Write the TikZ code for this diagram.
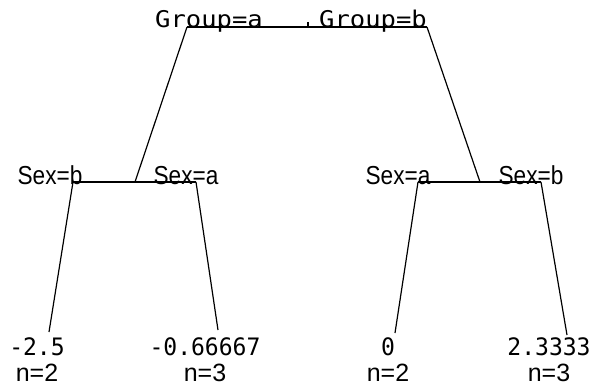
\documentclass[tikz,border=0pt]{standalone}
\usepackage{fontspec}
\setmainfont{Liberation Sans}
\newfontfamily\monof{DejaVu Sans Mono}
\newcommand{\valtxt}[1]{{\monof\fontsize{24}{26}\selectfont\scalebox{0.96}[1]{#1}}}
\begin{document}
\begin{tikzpicture}[x=1pt,y=-1pt,line width=1.2pt,
  split/.style={anchor=base,inner sep=0pt,font=\fontsize{26}{26}\selectfont},
  grp/.style={anchor=base,inner sep=0pt,font=\monof\fontsize{23}{23}\selectfont},
  leaf/.style={anchor=base,inner sep=0pt,align=center,font=\fontsize{25}{26}\selectfont},
  branch/.style={draw=black,line width=1.2pt}]
\useasboundingbox (0,0) rectangle (597,385);
% labels
\node[grp] (ga) at (209,28) {\scalebox{1.11}[1]{Group=a}};
\node[grp] (gb) at (373,28) {\scalebox{1.11}[1]{Group=b}};
\node[split] (lsb) at (50,184) {\scalebox{0.87}[1]{Sex=b}};
\node[split] (lsa) at (186,184) {\scalebox{0.87}[1]{Sex=a}};
\node[split] (rsa) at (398,184) {\scalebox{0.87}[1]{Sex=a}};
\node[split] (rsb) at (531,184) {\scalebox{0.87}[1]{Sex=b}};
\node[leaf] (v1) at (37,381) {\valtxt{-2.5}\\n=2};
\node[leaf] (v2) at (205,381) {\valtxt{-0.66667}\\n=3};
\node[leaf] (v3) at (388,381) {\valtxt{0}\\n=2};
\node[leaf] (v4) at (549,381) {\valtxt{2.3333}\\n=3};
% branch points
\coordinate (rt) at (308,22);
\coordinate (rb) at (308,27);
\coordinate (rl) at (187,27);
\coordinate (rr) at (427,27);
\coordinate (lj) at (135,182);
\coordinate (ll) at (73,182);
\coordinate (lr) at (196,182);
\coordinate (rj) at (480,182);
\coordinate (rl2) at (418,182);
\coordinate (rr2) at (541,182);
\coordinate (e1) at (49,332);
\coordinate (e2) at (218,330);
\coordinate (e3) at (395,333);
\coordinate (e4) at (567,335);
% connectors
\draw[branch] (rt) -- (rb);
\draw[branch] (rl) -- (rr);
\draw[branch] (rl) -- (lj);
\draw[branch] (rr) -- (rj);
\draw[branch] (ll) -- (lr);
\draw[branch] (rl2) -- (rr2);
\draw[branch] (ll) -- (e1);
\draw[branch] (lr) -- (e2);
\draw[branch] (rl2) -- (e3);
\draw[branch] (rr2) -- (e4);
\end{tikzpicture}
\end{document}
